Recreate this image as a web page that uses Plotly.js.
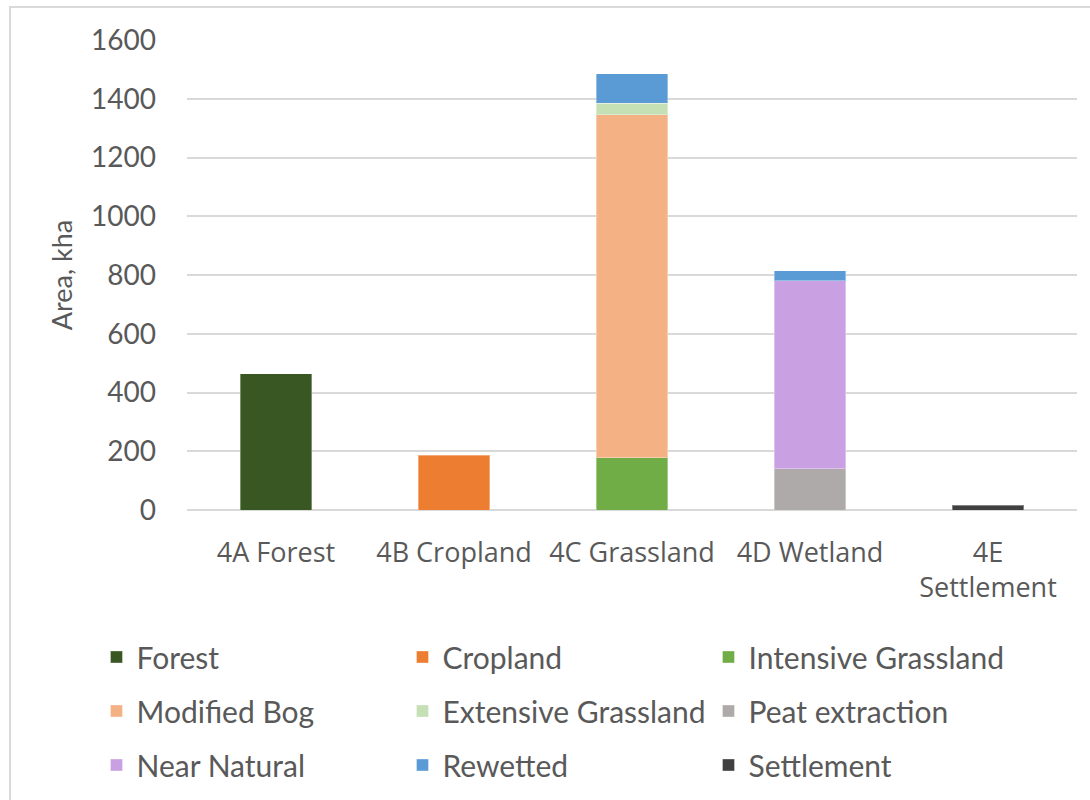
<!DOCTYPE html>
<html>
<head>
<meta charset="utf-8">
<script src="https://cdn.plot.ly/plotly-3.0.1.min.js"></script>
<style>
html,body{margin:0;padding:0;background:#fff;}
#frame{position:absolute;left:9px;top:6px;width:1200px;height:900px;border-left:2px solid #d9d9d9;border-top:2px solid #d9d9d9;box-sizing:border-box;pointer-events:none;}
#chart{position:absolute;left:0;top:0;width:1090px;height:800px;}
</style>
</head>
<body>
<div id="chart"></div>
<div id="frame"></div>
<script>
const categories = ['4A Forest', '4B Cropland', '4C Grassland', '4D Wetland', '4E<br>Settlement'];
const forest       = [463, null, null, null, null];
const cropland     = [null, 187, null, null, null];
const intensive    = [null, null, 178, null, null];
const modifiedBog  = [null, null, 1167, null, null];
const extensive    = [null, null, 39, null, null];
const peat         = [null, null, null, 140, null];
const nearNatural  = [null, null, null, 640, null];
const rewetted     = [null, null, 101, 35, null];
const settlement   = [null, null, null, null, 17];
const yTicks = [0, 200, 400, 600, 800, 1000, 1200, 1400, 1600];

const series = [
  {name: 'Forest', y: forest, color: '#385723', legend: 'legend'},
  {name: 'Cropland', y: cropland, color: '#ED7D31', legend: 'legend'},
  {name: 'Intensive Grassland', y: intensive, color: '#70AD47', legend: 'legend'},
  {name: 'Modified Bog', y: modifiedBog, color: '#F4B183', legend: 'legend2'},
  {name: 'Extensive Grassland', y: extensive, color: '#C5E0B4', legend: 'legend2'},
  {name: 'Peat extraction', y: peat, color: '#AEAAAA', legend: 'legend2'},
  {name: 'Near Natural', y: nearNatural, color: '#C9A1E2', legend: 'legend3'},
  {name: 'Rewetted', y: rewetted, color: '#5B9BD5', legend: 'legend3'},
  {name: 'Settlement', y: settlement, color: '#404040', legend: 'legend3'}
];

const traces = series.map(s => ({
  type: 'bar',
  name: s.name,
  x: categories,
  y: s.y,
  legend: s.legend,
  marker: {color: s.color, line: {color: 'rgba(255,255,255,0.35)', width: 1}},
  hoverinfo: 'name+y'
}));

function legendRow(yPos) {
  return {
    orientation: 'h',
    traceorder: 'normal',
    xref: 'paper',
    yref: 'paper',
    x: -0.1017,
    xanchor: 'left',
    y: yPos,
    yanchor: 'top',
    entrywidth: 261,
    entrywidthmode: 'pixels',
    font: {family: 'Lato, sans-serif', size: 30, color: '#595959'},
    bgcolor: 'rgba(0,0,0,0)'
  };
}

const layout = {
  width: 1090,
  height: 800,
  barmode: 'stack',
  bargap: 0.6,
  paper_bgcolor: '#ffffff',
  plot_bgcolor: '#ffffff',
  margin: {l: 187, r: 13, t: 40, b: 290, pad: 0, autoexpand: false},
  font: {family: 'Lato, "Open Sans", sans-serif', color: '#595959'},
  xaxis: {
    type: 'category',
    showgrid: false,
    showline: false,
    zeroline: false,
    ticks: '',
    ticklabelstandoff: 24,
    tickfont: {family: '"Open Sans", sans-serif', size: 27, color: '#595959'},
    fixedrange: true
  },
  yaxis: {
    range: [0, 1600],
    tickvals: yTicks,
    ticktext: yTicks.map(String),
    showgrid: true,
    gridcolor: '#d9d9d9',
    gridwidth: 1.5,
    zeroline: true,
    zerolinecolor: '#d9d9d9',
    zerolinewidth: 1.5,
    showline: false,
    ticks: '',
    ticklabelstandoff: 30,
    tickfont: {family: 'Lato, sans-serif', size: 28, color: '#595959'},
    title: {text: 'Area, kha', font: {family: 'Lato, sans-serif', size: 27, color: '#595959'}, standoff: 10},
    fixedrange: true
  },
  showlegend: true,
  legend: legendRow(-0.2574),
  legend2: legendRow(-0.3723),
  legend3: legendRow(-0.4872)
};

Plotly.newPlot('chart', traces, layout, {displayModeBar: false});
</script>
</body>
</html>
